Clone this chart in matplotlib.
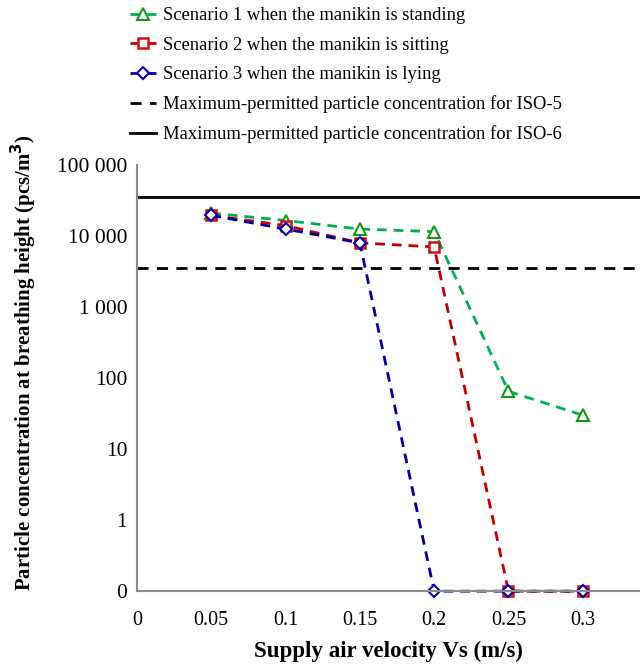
import matplotlib.pyplot as plt
from matplotlib.ticker import FixedLocator, FixedFormatter

plt.rcParams['font.family'] = ['Liberation Serif', 'DejaVu Serif']

# supply air velocity (m/s)
velocity = [0.05, 0.1, 0.15, 0.2, 0.25, 0.3]
# particle concentration (pcs/m3); 0 is drawn at the 0.1 floor of the log axis
standing = [21000, 16500, 12500, 11500, 65, 30]
sitting = [19500, 14000, 8000, 7000, 0.1, 0.1]
lying = [19500, 12500, 8000, 0.1, 0.1, 0.1]
iso5 = 3520
iso6 = 35200

ytick_vals = [0.1, 1, 10, 100, 1000, 10000, 100000]
ytick_labels = ["0", "1", "10", "100", "1 000", "10 000", "100 000"]
xtick_vals = [0, 0.05, 0.1, 0.15, 0.2, 0.25, 0.3]
xtick_labels = ["0", "0.05", "0.1", "0.15", "0.2", "0.25", "0.3"]

fig = plt.figure(figsize=(6.4, 6.65), dpi=100)
ax = fig.add_axes([0.214, 0.111, 0.786, 0.641])

dash = (0, (3.5, 2.5))
ax.plot(velocity, standing, linestyle=dash, color='#00B050', lw=2,
        marker='^', ms=9, mfc='white', mec='#139a13', mew=1.5, clip_on=False,
        label='Scenario 1 when the manikin is standing')
ax.plot(velocity, sitting, linestyle=dash, color='#C00000', lw=2,
        marker='s', ms=7, mfc='white', mec='#d01010', mew=1.8, clip_on=False,
        label='Scenario 2 when the manikin is sitting')
ax.plot(velocity, lying, linestyle=dash, color='#0000A0', lw=2,
        marker='D', ms=6, mfc='white', mec='#0000B0', mew=1.5, clip_on=False,
        label='Scenario 3 when the manikin is lying')
ax.axhline(iso5, color='black', lw=2, linestyle=(0, (4, 3)),
           label='Maximum-permitted particle concentration for ISO-5')
ax.axhline(iso6, color='black', lw=2,
           label='Maximum-permitted particle concentration for ISO-6')

ax.set_yscale('log')
ax.set_ylim(0.1, 100000)
ax.set_xlim(0, 0.3385)
ax.yaxis.set_major_locator(FixedLocator(ytick_vals))
ax.yaxis.set_major_formatter(FixedFormatter(ytick_labels))
ax.yaxis.set_minor_locator(FixedLocator([]))
ax.xaxis.set_major_locator(FixedLocator(xtick_vals))
ax.xaxis.set_major_formatter(FixedFormatter(xtick_labels))
ax.tick_params(axis='y', length=0, labelsize=15.5, pad=7)
ax.tick_params(axis='x', length=0, labelsize=14.5, pad=14)

for s in ['top', 'right']:
    ax.spines[s].set_visible(False)
for s in ['left', 'bottom']:
    ax.spines[s].set_color('#8c8c8c')
    ax.spines[s].set_linewidth(1.5)

ax.set_xlabel('Supply air velocity Vs (m/s)', fontsize=16.5, fontweight='bold', labelpad=8)
ax.set_ylabel('Particle concentration at breathing height (pcs/m$^{\\mathbf{3}}$)',
              fontsize=15, fontweight='bold')
ax.yaxis.set_label_coords(-0.195, 0.535)

fig.legend(loc='upper left', bbox_to_anchor=(0.192, 1.0), frameon=False,
           fontsize=13.4, handlelength=1.4, handletextpad=0.35, labelspacing=0.66,
           borderaxespad=0)

fig.savefig('out.png', dpi=100)
